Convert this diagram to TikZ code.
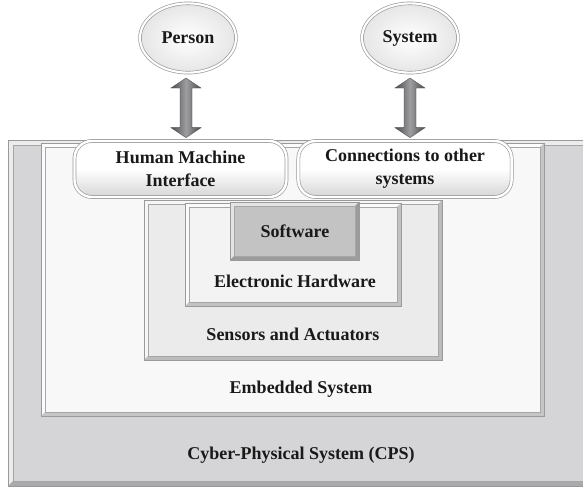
\documentclass[tikz,border=0pt]{standalone}
\usepackage{fontspec}
\setmainfont{Liberation Serif}
\usetikzlibrary{calc,shapes.geometric}
\definecolor{cpsfill}{HTML}{D5D5D7}
\definecolor{embfill}{HTML}{F8F8F8}
\definecolor{sensfill}{HTML}{EBEBEC}
\definecolor{ehwfill}{HTML}{F3F3F3}
\definecolor{swfill}{HTML}{C3C3C4}
\definecolor{edgegray}{HTML}{9A9A9C}
\definecolor{arrowdark}{HTML}{4C4C4E}
\definecolor{arrowlight}{HTML}{9E9EA0}
\newcommand\bevbox[6]{%
  \fill[#5] (#1,#2) rectangle (#3,#4);
  \fill[white!55!#5] (#1,#2) -- (#3,#2) -- (#3-#6,#2+#6) -- (#1+#6,#2+#6) -- (#1+#6,#4-#6) -- (#1,#4) -- cycle;
  \fill[black!20!#5] (#3,#4) -- (#3,#2) -- (#3-#6,#2+#6) -- (#3-#6,#4-#6) -- (#1+#6,#4-#6) -- (#1,#4) -- cycle;
  \draw[boxedge] (#1,#2) rectangle (#3,#4);
  \draw[boxinner] (#1+#6,#2+#6) rectangle (#3-#6,#4-#6);
}
\newcommand\blockarrow[2]{%
  \shade[left color=arrowdark, right color=arrowdark, middle color=arrowlight, draw=arrowdark, line width=0.3pt]
    (#1) -- ([shift={(15,10)}]#1) -- ([shift={(6,10)}]#1) -- ([shift={(6,-10)}]#2) -- ([shift={(15,-10)}]#2)
    -- (#2) -- ([shift={(-15,-10)}]#2) -- ([shift={(-6,-10)}]#2) -- ([shift={(-6,10)}]#1) -- ([shift={(-15,10)}]#1) -- cycle;
}
\tikzset{
  boxedge/.style={draw=edgegray, line width=0.6pt},
  boxinner/.style={draw=black!35, line width=0.3pt},
  lbl/.style={font=\bfseries\fontsize{13.5}{17}\selectfont, text=black!90, align=center, inner sep=0pt},
  roundbox/.style={rectangle, rounded corners=13pt, draw=edgegray, line width=0.5pt, double=white, double distance=1.8pt,
    top color=white, bottom color=black!16, middle color=white, minimum height=42pt, inner sep=0pt, lbl},
  bubble/.style={ellipse, draw=edgegray, line width=0.5pt, double=white, double distance=1.6pt,
    inner color=white, outer color=black!10, minimum width=72pt, minimum height=52pt, inner sep=0pt, lbl}
}
\begin{document}
\begin{tikzpicture}[x=0.75pt, y=-0.75pt]
\useasboundingbox (0,0) rectangle (583,487);
\fill[white] (0,0) rectangle (583,487);
% containers
\bevbox{8}{140}{600}{486}{cpsfill}{5}
\bevbox{41}{143}{544}{416}{embfill}{4}
\bevbox{144}{200}{442}{360}{sensfill}{4}
\bevbox{185}{203}{401}{306}{ehwfill}{4}
\bevbox{230}{202}{359}{260}{swfill}{4}
% labels
\node[lbl] (sw) at (295,231) {Software};
\node[lbl] (ehw) at (295,281) {Electronic Hardware};
\node[lbl] (sens) at (293,334) {Sensors and Actuators};
\node[lbl] (emb) at (301,389) {Embedded System};
\node[lbl] (cps) at (301,455) {Cyber-Physical System (CPS)};
% interface boxes
\node[roundbox, minimum width=159pt] (hmi) at (180.5,169) {Human Machine\\Interface};
\node[roundbox, minimum width=160pt] (conn) at (405,169) {Connections to other\\systems};
% outside entities
\node[bubble] (person) at (188,38) {Person};
\node[bubble] (system) at (410,38) {System};
% arrows
\coordinate (pa) at ($(person.south)+(-2,5)$);
\coordinate (pb) at ($(person.south |- hmi.north)+(-2,-3)$);
\coordinate (sa) at ($(system.south)+(0,5)$);
\coordinate (sb) at ($(system.south |- conn.north)+(0,-3)$);
\blockarrow{pa}{pb}
\blockarrow{sa}{sb}
\end{tikzpicture}
\end{document}
